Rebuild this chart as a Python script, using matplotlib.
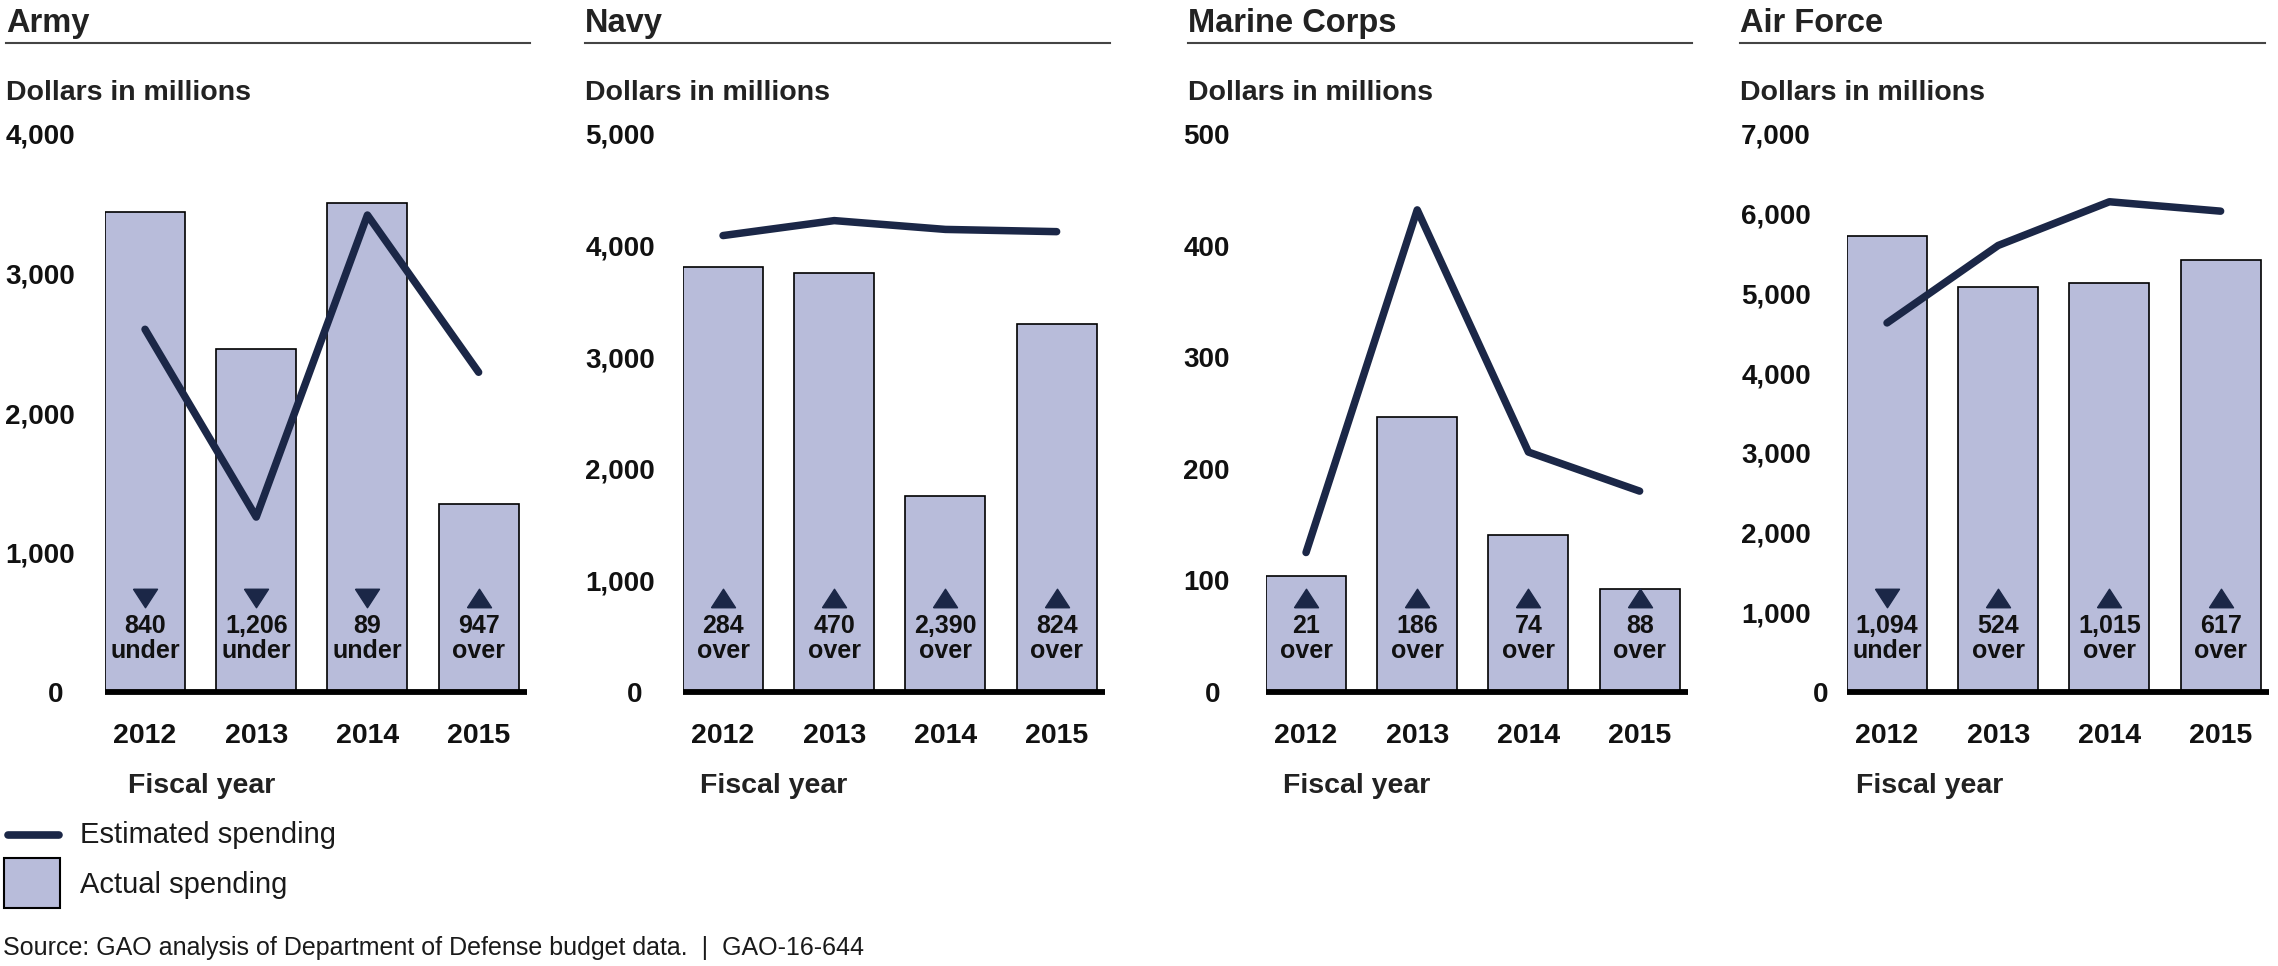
import matplotlib
matplotlib.use('Agg')
import matplotlib.pyplot as plt
import matplotlib.transforms as mtransforms
from matplotlib.lines import Line2D
from matplotlib.patches import Rectangle

plt.rcParams['font.family'] = ['Liberation Sans', 'DejaVu Sans']

# ---------------- data ----------------
years = ['2012', '2013', '2014', '2015']
services = ['Army', 'Navy', 'Marine Corps', 'Air Force']

army_actual = [3440, 2460, 3508, 1345]
army_estimated = [2600, 1254, 3419, 2292]
army_diff = ['840', '1,206', '89', '947']
army_dir = ['under', 'under', 'under', 'over']

navy_actual = [3806, 3754, 1755, 3301]
navy_estimated = [4090, 4224, 4145, 4125]
navy_diff = ['284', '470', '2,390', '824']
navy_dir = ['over', 'over', 'over', 'over']

marine_actual = [104, 246, 141, 92]
marine_estimated = [125, 432, 215, 180]
marine_diff = ['21', '186', '74', '88']
marine_dir = ['over', 'over', 'over', 'over']

af_actual = [5724, 5078, 5135, 5415]
af_estimated = [4630, 5602, 6150, 6032]
af_diff = ['1,094', '524', '1,015', '617']
af_dir = ['under', 'over', 'over', 'over']

y_max = [4000, 5000, 500, 7000]
y_step = [1000, 1000, 100, 1000]

actuals = [army_actual, navy_actual, marine_actual, af_actual]
estimates = [army_estimated, navy_estimated, marine_estimated, af_estimated]
diffs = [army_diff, navy_diff, marine_diff, af_diff]
dirs = [army_dir, navy_dir, marine_dir, af_dir]

# ---------------- style / layout (pixels) ----------------
W, H, DPI = 2278, 966, 100
FILL = '#b8bcda'
NAVY = '#1b2747'
TXT = '#1a1a1a'

axes_left = [105, 683, 1266, 1847]
axes_width = 422
axes_top, axes_bottom = 134, 692
title_x = [6, 585, 1188, 1740]
underline_end = [530, 1110, 1692, 2265]
fy_x = [128, 700, 1283, 1856]
tick_pad_px = [30, 28, 36, 36]
zero_pad_px = [42, 41, 46, 19]

PT = 72.0 / DPI  # points per pixel


def fy(px):
    return 1 - px / H


def fx(px):
    return px / W


fig = plt.figure(figsize=(W / DPI, H / DPI), dpi=DPI)
fig.patch.set_facecolor('white')

tri_up = [(-1, -0.77), (1, -0.77), (0, 0.77), (-1, -0.77)]
tri_down = [(-1, 0.77), (1, 0.77), (0, -0.77), (-1, 0.77)]

ah = axes_bottom - axes_top

for k in range(4):
    ax = fig.add_axes([fx(axes_left[k]), fy(axes_bottom), axes_width / W, ah / H])
    ax.set_facecolor('none')
    x = list(range(len(years)))
    ax.bar(x, actuals[k], width=0.72, color=FILL, edgecolor='black',
           linewidth=1.2, zorder=2)
    ax.plot(x, estimates[k], color=NAVY, lw=5.4, solid_capstyle='round',
            solid_joinstyle='round', zorder=4)
    ax.axhline(0, color='black', lw=4.2, zorder=5, clip_on=False,
               solid_capstyle='butt')
    ax.set_xlim(-0.36, 3.435)
    ax.set_ylim(0, y_max[k])
    for s in ax.spines.values():
        s.set_visible(False)
    ax.set_xticks([])
    ticks = list(range(0, y_max[k] + 1, y_step[k]))
    ax.set_yticks(ticks, [f'{t:,}' for t in ticks])
    ax.tick_params(axis='y', length=0, pad=tick_pad_px[k] * PT,
                   labelsize=20, labelcolor='#111111')
    for lab in ax.get_yticklabels():
        lab.set_fontweight('bold')
    ax.yaxis.get_major_ticks()[0].set_pad(zero_pad_px[k] * PT)

    trans = mtransforms.blended_transform_factory(ax.transData, ax.transAxes)
    for i in x:
        ax.text(i, (axes_bottom - 743) / ah, years[i], transform=trans,
                ha='center', va='baseline', fontsize=20.5, fontweight='bold',
                color='#111111')
        m = tri_up if dirs[k][i] == 'over' else tri_down
        ax.plot([i], [(axes_bottom - 598) / ah], marker=m, ms=17.3,
                color=NAVY, linestyle='none', transform=trans, zorder=3)
        ax.text(i, (axes_bottom - 633) / ah, diffs[k][i], transform=trans,
                ha='center', va='baseline', fontsize=18, fontweight='bold',
                color='#111111', zorder=3)
        ax.text(i, (axes_bottom - 658) / ah, dirs[k][i], transform=trans,
                ha='center', va='baseline', fontsize=18, fontweight='bold',
                color='#111111', zorder=3)

    # panel title + rule
    fig.text(fx(title_x[k]), fy(32), services[k], fontsize=23.5,
             fontweight='bold', color='#222222', va='baseline')
    fig.add_artist(Line2D([fx(title_x[k]), fx(underline_end[k])], [fy(43), fy(43)],
                          transform=fig.transFigure, color='#444444', lw=1.5))
    fig.text(fx(title_x[k]), fy(100), 'Dollars in millions', fontsize=20.5,
             fontweight='bold', color='#222222', va='baseline')
    fig.text(fx(fy_x[k]), fy(793), 'Fiscal year', fontsize=20.5,
             fontweight='bold', color='#222222', va='baseline')

# ---------------- legend ----------------
fig.add_artist(Line2D([fx(8), fx(59)], [fy(835), fy(835)], transform=fig.transFigure,
                      color=NAVY, lw=5.5, solid_capstyle='round'))
fig.text(fx(80), fy(835), 'Estimated spending', fontsize=21, va='center', color=TXT)
fig.add_artist(Rectangle((fx(4), fy(908)), 56 / W, 50 / H, transform=fig.transFigure,
                         facecolor=FILL, edgecolor='black', lw=1.5))
fig.text(fx(80), fy(885), 'Actual spending', fontsize=21, va='center', color=TXT)

fig.text(fx(3), fy(948),
         'Source: GAO analysis of Department of Defense budget data.  |  GAO-16-644',
         fontsize=18, va='center', color=TXT)

fig.savefig('out.png', dpi=DPI, facecolor='white')
